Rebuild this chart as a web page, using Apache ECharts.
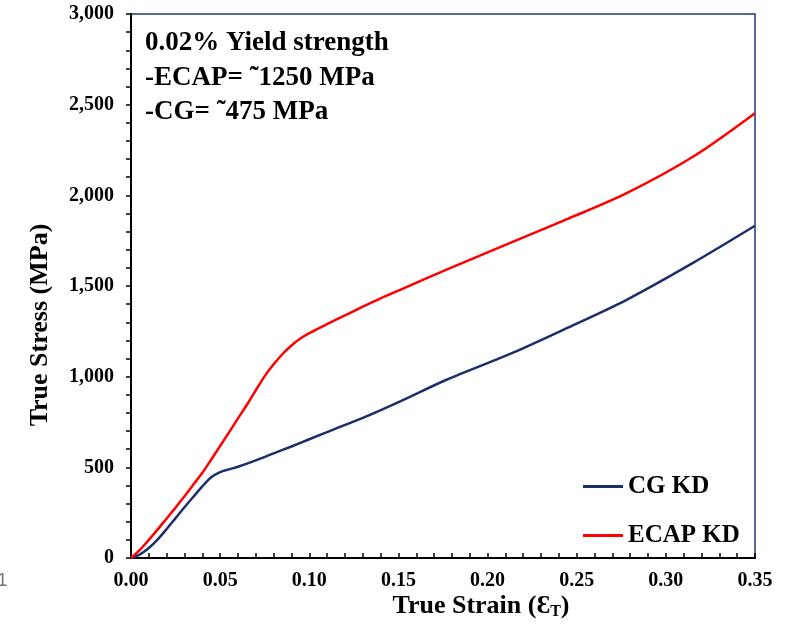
<!DOCTYPE html>
<html><head><meta charset="utf-8">
<script src="https://cdn.jsdelivr.net/npm/echarts@6/dist/echarts.min.js"></script>
<style>html,body{margin:0;padding:0;background:#fff}#c{width:786px;height:624px}</style>
</head><body><div id="c"></div>
<script>
const cgStrain = [0, 0.005, 0.01, 0.015, 0.02, 0.025, 0.03, 0.035, 0.04, 0.045, 0.05, 0.055, 0.06, 0.07, 0.08, 0.09, 0.1, 0.1135, 0.132, 0.151, 0.177, 0.214, 0.245, 0.278, 0.315, 0.35];
const cgStress = [0, 20, 55, 103, 160, 220, 280, 338, 395, 445, 474, 489, 503, 538, 577, 615, 655, 708, 781, 864, 983, 1131, 1270, 1424, 1626, 1832];
const ecapStrain = [0, 0.005, 0.01, 0.015, 0.02, 0.025, 0.03, 0.035, 0.04, 0.045, 0.05, 0.055, 0.06, 0.065, 0.07, 0.075, 0.08, 0.085, 0.09, 0.095, 0.1, 0.11, 0.12, 0.13, 0.14, 0.151, 0.177, 0.2144, 0.245, 0.278, 0.3154, 0.35];
const ecapStress = [0, 45, 100, 158, 218, 278, 340, 405, 470, 543, 618, 693, 770, 845, 925, 1003, 1068, 1125, 1172, 1210, 1240, 1290, 1338, 1386, 1432, 1479, 1590, 1745, 1870, 2012, 2214, 2453];
const yTicks = [0, 500, 1000, 1500, 2000, 2500, 3000];
const xTicks = [0, 0.05, 0.10, 0.15, 0.20, 0.25, 0.30, 0.35];
const seriesNames = ['CG KD', 'ECAP KD'];
const annotation = ['0.02% Yield strength', '-ECAP= ˜1250 MPa', '-CG= ˜475 MPa'];
const xTitle = 'True Strain (Ɛ{sub|T})';
const yTitle = 'True Stress (MPa)';

const pair = (xs, ys) => xs.map((x, i) => [x, ys[i]]);
const serif = '"Liberation Serif", "Times New Roman", serif';
const chart = echarts.init(document.getElementById('c'));
chart.setOption({
  animation: false,
  grid: { left: 131, right: 31, top: 14, bottom: 66, show: true, borderColor: '#1f3a70', borderWidth: 1.5, backgroundColor: 'transparent' },
  xAxis: {
    type: 'value', min: xTicks[0], max: xTicks[xTicks.length - 1], interval: 0.05,
    axisLine: { lineStyle: { color: '#000', width: 2 } },
    axisTick: { inside: true, length: 5, lineStyle: { color: '#000', width: 1.5 } },
    minorTick: { show: true, splitNumber: 5, length: 5, lineStyle: { color: '#000', width: 1.5 } },
    axisLabel: { fontFamily: serif, fontWeight: 'bold', fontSize: 20, color: '#000', margin: 13, formatter: v => v.toFixed(2) },
    splitLine: { show: false }
  },
  yAxis: {
    type: 'value', min: yTicks[0], max: yTicks[yTicks.length - 1], interval: 500,
    axisLine: { lineStyle: { color: '#000', width: 2 } },
    axisTick: { length: 5, lineStyle: { color: '#000', width: 1.5 } },
    minorTick: { show: true, splitNumber: 5, length: 5, lineStyle: { color: '#000', width: 1.5 } },
    axisLabel: { fontFamily: serif, fontWeight: 'bold', fontSize: 20, color: '#000', margin: 17, formatter: v => v.toLocaleString('en-US') },
    splitLine: { show: false }
  },
  legend: {
    orient: 'vertical', left: 583, top: 474, padding: 0, itemGap: 24, itemWidth: 40, itemHeight: 3,
    icon: 'rect',
    textStyle: { fontFamily: serif, fontWeight: 'bold', fontSize: 25, color: '#000' },
    data: seriesNames
  },
  graphic: [
    { type: 'text', left: 145, top: 26, style: { text: annotation.join('\n'), fontFamily: serif, fontWeight: 'bold', fontSize: 27, lineHeight: 34.5, fill: '#000' } },
    { type: 'text', x: 40, y: 325, rotation: Math.PI / 2, style: { text: yTitle, align: 'center', verticalAlign: 'middle', fontFamily: serif, fontWeight: 'bold', fontSize: 26, fill: '#000' } },
    { type: 'text', x: 481, y: 606, style: { text: xTitle, align: 'center', verticalAlign: 'middle', fontFamily: serif, fontWeight: 'bold', fontSize: 26, fill: '#000',
      rich: { sub: { fontFamily: serif, fontWeight: 'bold', fontSize: 16, padding: [12, 0, 0, 0] } } } },
    { type: 'text', left: -3, top: 571, style: { text: '1', fontFamily: '"Liberation Sans", sans-serif', fontSize: 19, fill: '#777' } }
  ],
  series: [
    { name: seriesNames[0], type: 'line', data: pair(cgStrain, cgStress), smooth: 0.3, symbol: 'none', lineStyle: { color: '#1b2f6a', width: 2.5 }, itemStyle: { color: '#1b2f6a' } },
    { name: seriesNames[1], type: 'line', data: pair(ecapStrain, ecapStress), smooth: 0.3, symbol: 'none', lineStyle: { color: '#ff0000', width: 2.5 }, itemStyle: { color: '#ff0000' } }
  ]
});
</script></body></html>
